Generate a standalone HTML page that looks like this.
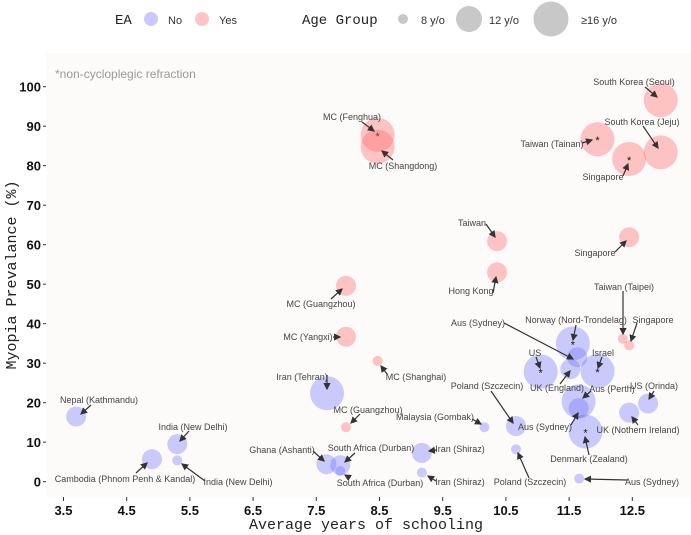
<!DOCTYPE html>
<html><head><meta charset="utf-8"><style>
body{margin:0;background:#fff;}
svg{display:block;font-family:"Liberation Sans",sans-serif;}
</style></head><body>
<svg id="chart" width="691" height="535" viewBox="0 0 691 535">
<defs><marker id="ah" markerWidth="6" markerHeight="6" refX="5" refY="3" orient="auto"><path d="M0,0 L6,3 L0,6 z" fill="#333"/></marker></defs>
<rect x="46" y="53" width="645" height="444" fill="#fcfbfa"/>
<g id="legend">
<text x="115" y="24" font-family="Liberation Mono,monospace" font-size="14" fill="#222">EA</text>
<circle cx="151" cy="19" r="7" fill="rgba(100,100,255,0.35)"/>
<text x="168" y="24" font-size="11" fill="#333">No</text>
<circle cx="202" cy="19" r="7" fill="rgba(255,110,110,0.4)"/>
<text x="219" y="24" font-size="11" fill="#333">Yes</text>
<text x="302" y="24" font-family="Liberation Mono,monospace" font-size="14" fill="#222">Age Group</text>
<circle cx="403" cy="19" r="5" fill="#c8c8c8"/>
<text x="421" y="24" font-size="11" fill="#333">8 y/o</text>
<circle cx="469" cy="19" r="13" fill="#c8c8c8"/>
<text x="489" y="24" font-size="11" fill="#333">12 y/o</text>
<circle cx="551" cy="19" r="17.5" fill="#c8c8c8"/>
<text x="581" y="24" font-size="11" fill="#333">≥16 y/o</text>
</g>
<text x="55" y="78" font-size="12" fill="#999">*non-cycloplegic refraction</text>
<text x="0" y="0" transform="translate(16,275) rotate(-90)" text-anchor="middle" font-family="Liberation Mono,monospace" font-size="15" fill="#222">Myopia Prevalance (%)</text>
<text x="366" y="529" text-anchor="middle" font-family="Liberation Mono,monospace" font-size="15" fill="#222">Average years of schooling</text>
<g id="axes"></g><g id="bubbles"></g><g id="annots"></g>
</svg>
<script>
const xTicks=[3.5,4.5,5.5,6.5,7.5,8.5,9.5,10.5,11.5,12.5];
const yTicks=[0,10,20,30,40,50,60,70,80,90,100];
const names=["Nepal (Kathmandu)","Cambodia","India (New Delhi)","India (New Delhi) 8","Iran (Tehran)","MC (Guangzhou)","MC (Yangxi)","MC (Guangzhou) 8","Ghana (Ashanti)","South Africa (Durban)","South Africa (Durban) 8","MC (Shanghai)","Malaysia (Gombak)","Iran (Shiraz)","Iran (Shiraz) 8","Poland (Szczecin)","Poland (Szczecin) 8","Hong Kong","US","Norway (Nord-Trondelag)","Aus (Sydney)","UK (England)","Israel","Aus (Perth)","Aus (Sydney) 12","Denmark (Zealand)","UK (Nothern Ireland)","US (Orinda)","Aus (Sydney) 8","Taiwan (Taipei)","Singapore 8","MC (Fenghua)","MC (Shangdong)","Taiwan","Singapore 12","South Korea (Seoul)","Taiwan (Tainan)","Singapore 16","South Korea (Jeju)"];
const schooling=[3.70,4.90,5.30,5.30,7.67,7.97,7.97,7.97,7.66,7.88,7.88,8.47,10.16,9.17,9.17,10.66,10.66,10.36,11.05,11.56,11.63,11.52,11.95,11.65,11.65,11.76,12.45,12.75,11.66,12.35,12.45,8.47,8.47,10.36,12.45,12.95,11.95,12.45,12.95];
const prevalence=[16.5,5.7,9.5,5.4,22.4,49.6,36.7,13.8,4.4,4.2,2.7,30.6,13.8,7.3,2.3,14.1,8.2,53.0,27.9,35.0,31.5,28.5,28.0,20.3,18.6,12.7,17.5,19.8,0.8,36.2,34.5,87.8,84.8,60.9,61.9,96.6,86.7,81.7,83.4];
const ageGroup=[12,12,12,8,16,12,12,8,12,12,8,8,8,12,8,12,8,12,16,16,12,12,16,16,12,16,12,12,8,8,8,16,16,12,12,16,16,16,16];
const ea=[0,0,0,0,0,1,1,1,0,0,0,1,0,0,0,0,0,1,0,0,0,0,0,0,0,0,0,0,0,1,1,1,1,1,1,1,1,1,1];
const starred=[0,0,0,0,0,0,0,0,0,0,0,0,0,0,0,0,0,0,1,1,0,0,1,0,0,1,0,0,0,0,0,1,0,0,0,0,1,1,0];
// annotations: label, label x, label y, arrow start x,y, arrow end x,y (pixel layout)
const annots=[
["Nepal (Kathmandu)",99,403,91,405,81,414],["MC (Guangzhou)",321,307,331,299,342,289],["MC (Yangxi)",308,340,333,337,340,337],
["Iran (Tehran)",302,380,327,375,327,389],["India (New Delhi)",193,430,189,431,180,441],["Cambodia (Phnom Penh & Kandal)",125,482,136,473,147,463],
["India (New Delhi)",238,485,205,481,182,464],["Ghana (Ashanti)",282,453,313,451,324,461],["South Africa (Durban)",371,451,355,453,345,462],
["South Africa (Durban)",380,486,350,478,345,475],["MC (Guangzhou)",368,413,360,414,351,423],["MC (Shanghai)",416,380,387,374,381,366],
["Iran (Shiraz)",460,452,437,450,429,451],["Iran (Shiraz)",460,485,436,481,428,476],["Malaysia (Gombak)",435,420,472,419,481,424],
["Poland (Szczecin)",487,389,491,391,513,423],["Poland (Szczecin)",530,485,529,478,518,453],["Hong Kong",471,294,493,293,496,277],
["Aus (Sydney)",478,326,504,323,573,359],["Norway (Nord-Trondelag)",576,323,576,325,573,340],["US",535,356,536,357,540,368],
["Israel",603,356,602,357,598,368],["UK (England)",557,391,560,384,570,371],["Aus (Perth)",612,392,591,391,583,398],
["US (Orinda)",654,389,654,391,649,399],["Aus (Sydney)",545,430,571,425,578,413],["UK (Nothern Ireland)",638,433,638,425,632,417],
["Denmark (Zealand)",589,462,589,455,585,437],["Aus (Sydney)",652,485,627,480,585,479],["Taiwan (Taipei)",624,290,623,291,623,334],
["Singapore",653,323,637,323,631,341],["South Korea (Seoul)",634,85,645,87,657,97],["South Korea (Jeju)",642,125,643,126,658,148],
["Taiwan (Tainan)",552,147,582,143,592,140],["Singapore",603,180,623,176,628,164],["MC (Fenghua)",352,120,362,122,374,131],
["MC (Shangdong)",403,169,393,160,382,151],["Taiwan",472,226,486,224,495,237],["Singapore",595,256,615,252,626,241]];
const NS="http://www.w3.org/2000/svg";
function xs(v){return 63.5+(v-3.5)*63.2;}
function ys(v){return 481.7-v*3.95;}
function rs(a){return a===8?5:(a===12?10:17);}
function mk(tag,attrs,parent){const e=document.createElementNS(NS,tag);for(const k in attrs)e.setAttribute(k,attrs[k]);parent.appendChild(e);return e;}
const ax=document.getElementById('axes');
xTicks.forEach(t=>{
 const l=mk('line',{x1:xs(t),x2:xs(t),y1:497,y2:501,stroke:'#333','stroke-width':1},ax);
 
 
 const tx=mk('text',{x:xs(t),y:515,'text-anchor':'middle','font-size':13,'font-weight':'bold',fill:'#111'},ax);
 tx.textContent=t;
 
 
});
yTicks.forEach(t=>{
 const l=mk('line',{x1:43,x2:46,y1:ys(t),y2:ys(t),stroke:'#333','stroke-width':1},ax);
 
 
 const tx=mk('text',{x:41,y:ys(t)+5,'text-anchor':'end','font-size':13,'font-weight':'bold',fill:'#111'},ax);
 tx.textContent=t;
 
 
});
const bg=document.getElementById('bubbles');
schooling.forEach((s,i)=>{
 const c=mk('circle',{cx:xs(s),cy:ys(prevalence[i]),r:rs(ageGroup[i]),fill:ea[i]?'rgba(255,110,110,0.4)':'rgba(100,100,255,0.33)'},bg);
 
 
 if(starred[i]){
  const st=mk('text',{x:xs(s),y:ys(prevalence[i])+5,'text-anchor':'middle','font-size':11,fill:'#111'},bg);
  st.textContent='*';
  
  
 }
});
const ag=document.getElementById('annots');
annots.forEach(a=>{
 const l=mk('line',{x1:a[3],y1:a[4],x2:a[5],y2:a[6],stroke:'#333','stroke-width':1.2,'marker-end':'url(#ah)'},ag);
 
 
 const t=mk('text',{x:a[1],y:a[2],'text-anchor':'middle','font-size':9,fill:'#444'},ag);
 t.textContent=a[0];
 
 
});
</script>
</body></html>
